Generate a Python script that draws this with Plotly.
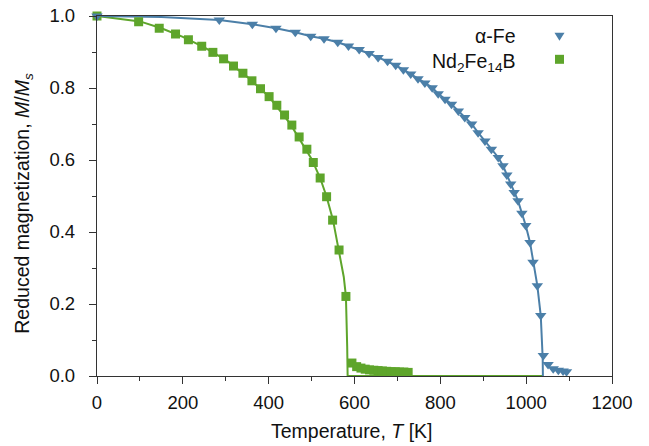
import plotly.graph_objects as go

# ---- data ----
fe_T = [0, 285, 362, 417, 462, 498, 529, 561, 586, 611, 634, 655, 677, 696, 714, 731, 748,
        764, 781, 795, 811, 826, 842, 857, 873, 888, 904, 919, 935, 946, 955, 964, 972,
        981, 990, 999, 1009, 1016, 1026, 1034, 1040, 1051, 1063, 1075, 1086, 1094]
fe_M = [1.0, 0.989, 0.977, 0.966, 0.955, 0.944, 0.937, 0.927, 0.917, 0.907, 0.896, 0.885,
        0.874, 0.863, 0.851, 0.839, 0.826, 0.814, 0.801, 0.784, 0.769, 0.755, 0.736, 0.718,
        0.700, 0.676, 0.653, 0.630, 0.607, 0.584, 0.558, 0.533, 0.510, 0.487, 0.452, 0.418,
        0.371, 0.316, 0.251, 0.168, 0.057, 0.032, 0.020, 0.016, 0.014, 0.012]

fe_curve_T = [0, 150, 285, 362, 417, 462, 498, 529, 561, 586, 611, 634, 655, 677, 696, 714,
              731, 748, 764, 781, 795, 811, 826, 842, 857, 873, 888, 904, 919, 935, 946, 955,
              964, 972, 981, 990, 999, 1009, 1016, 1026, 1034, 1037, 1038.5, 1039]
fe_curve_M = [1.0, 0.997, 0.989, 0.977, 0.966, 0.955, 0.944, 0.937, 0.927, 0.917, 0.907,
              0.896, 0.885, 0.874, 0.863, 0.851, 0.839, 0.826, 0.814, 0.801, 0.784, 0.769,
              0.755, 0.736, 0.718, 0.700, 0.676, 0.653, 0.630, 0.607, 0.584, 0.558, 0.533,
              0.510, 0.487, 0.452, 0.418, 0.371, 0.316, 0.251, 0.168, 0.11, 0.05, 0.0]

nd_T = [0, 97, 145, 183, 213, 244, 270, 295, 318, 340, 361, 381, 401, 419, 437, 454, 471,
        489, 504, 520, 535, 549, 564, 580, 594, 605, 615, 625, 635, 645, 655, 665, 675, 685,
        695, 705, 715, 725]
nd_M = [1.0, 0.984, 0.966, 0.950, 0.934, 0.916, 0.899, 0.881, 0.861, 0.841, 0.820, 0.798,
        0.776, 0.752, 0.725, 0.697, 0.664, 0.630, 0.593, 0.550, 0.498, 0.433, 0.350, 0.221,
        0.036, 0.026, 0.022, 0.019, 0.017, 0.016, 0.015, 0.014, 0.013, 0.012, 0.012, 0.011,
        0.011, 0.010]

nd_curve_T = [0, 100, 150, 200, 250, 300, 350, 400, 450, 500, 520, 535, 550, 564, 575, 580,
              582, 583, 584, 1039]
nd_curve_M = [1.0, 0.985, 0.966, 0.942, 0.913, 0.878, 0.831, 0.777, 0.701, 0.603, 0.550,
              0.498, 0.433, 0.350, 0.275, 0.221, 0.15, 0.08, 0.0, 0.0]

x_ticks = [0, 200, 400, 600, 800, 1000, 1200]
y_ticks = [0.0, 0.2, 0.4, 0.6, 0.8, 1.0]

BLUE = "#4b7fa8"
GREEN = "#5ea52b"
AX = "#333333"
TXT = "#111111"
FONT = "Liberation Sans, Arial, sans-serif"

fig = go.Figure()
fig.add_trace(go.Scatter(x=nd_curve_T, y=nd_curve_M, mode="lines",
                         line=dict(color=GREEN, width=2), cliponaxis=False, showlegend=False))
fig.add_trace(go.Scatter(x=fe_curve_T, y=fe_curve_M, mode="lines",
                         line=dict(color=BLUE, width=2), cliponaxis=False, showlegend=False))
fig.add_trace(go.Scatter(x=nd_T, y=nd_M, mode="markers",
                         marker=dict(symbol="square", size=9, color=GREEN),
                         cliponaxis=False, showlegend=False))
fig.add_trace(go.Scatter(x=fe_T, y=fe_M, mode="markers",
                         marker=dict(symbol="triangle-down", size=10, color=BLUE),
                         cliponaxis=False, showlegend=False))

axis_common = dict(showgrid=False, zeroline=False, showline=True, mirror=True,
                   linecolor=AX, linewidth=1.3, ticks="outside", ticklen=7,
                   tickwidth=1.3, tickcolor=AX, automargin=False,
                   tickfont=dict(family=FONT, size=18.5, color=TXT))

fig.update_xaxes(range=[0, 1200], tickvals=x_ticks, ticklabelstandoff=3,
                 minor=dict(dtick=100, ticks="outside", ticklen=4, tickcolor=AX, tickwidth=1.3),
                 **axis_common)
fig.update_yaxes(range=[0, 1.0], tickvals=y_ticks, tickformat=".1f", ticklabelstandoff=10,
                 minor=dict(dtick=0.1, ticks="outside", ticklen=4, tickcolor=AX, tickwidth=1.3),
                 **axis_common)

annotations = [
    dict(text="Temperature, <i>T</i> [K]", xref="paper", yref="paper", x=0.496, y=-0.153,
         xanchor="center", yanchor="middle", showarrow=False,
         font=dict(family=FONT, size=19.5, color=TXT)),
    dict(text="Reduced magnetization, <i>M</i>/<i>M<sub>s</sub></i>", xref="paper", yref="paper",
         x=-0.142, y=0.481, textangle=-90, xanchor="center", yanchor="middle", showarrow=False,
         font=dict(family=FONT, size=19.5, color=TXT)),
    dict(text="α-Fe", xref="paper", yref="paper", x=0.818, y=0.9436,
         xanchor="right", yanchor="middle", showarrow=False,
         font=dict(family=FONT, size=19.5, color=TXT)),
    dict(text="Nd<sub>2</sub>Fe<sub>14</sub>B", xref="paper", yref="paper", x=0.818, y=0.872,
         xanchor="right", yanchor="middle", showarrow=False,
         font=dict(family=FONT, size=19.5, color=TXT)),
]

shapes = [
    dict(type="path", xref="paper", yref="paper",
         path="M 0.8883 0.9533 L 0.9078 0.9533 L 0.898 0.931 Z",
         fillcolor=BLUE, line=dict(width=0)),
    dict(type="rect", xref="paper", yref="paper", x0=0.8893, x1=0.9068, y0=0.8672, y1=0.8922,
         fillcolor=GREEN, line=dict(width=0)),
]

fig.update_layout(width=649, height=446, margin=dict(l=97, r=37, t=16, b=70, autoexpand=False),
                  plot_bgcolor="white", paper_bgcolor="white",
                  font=dict(family=FONT, size=18.5, color=TXT),
                  annotations=annotations, shapes=shapes, showlegend=False)

# remove the browser's default 8px body margin so the figure fills the window exactly
fig.write_html("out.html", config={"displayModeBar": False},
               post_script="document.body.style.margin='0';document.body.style.overflow='hidden';")
